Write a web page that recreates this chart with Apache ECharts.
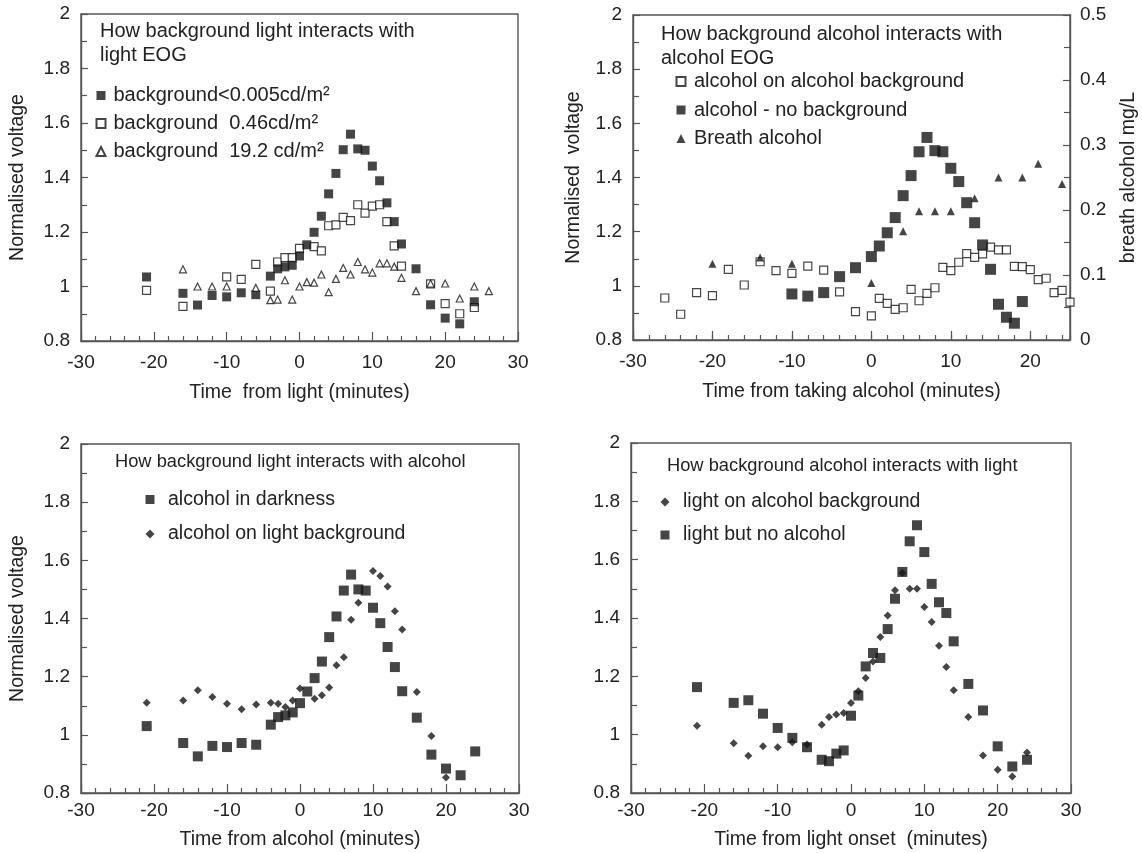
<!DOCTYPE html>
<html><head><meta charset="utf-8">
<script src="https://cdn.jsdelivr.net/npm/echarts@6/dist/echarts.min.js"></script>
<style>html,body{margin:0;padding:0;background:#fff}#c{width:1142px;height:853px}</style>
</head><body><div id="c"></div>
<script>
// ---------- Panel 1: How background light interacts with light EOG ----------
const p1DarkX = [-21,-16,-14,-12,-10,-8,-6,-4,-3,-2,-1,0,1,2,3,4,5,6,7,8,9,10,11,12,13,14,16,18,20,22,24];
const p1DarkY = [1.035,0.975,0.932,0.967,0.962,0.977,0.970,1.038,1.065,1.072,1.078,1.112,1.153,1.199,1.258,1.34,1.415,1.502,1.559,1.505,1.50,1.442,1.388,1.307,1.238,1.156,1.065,0.933,0.884,0.863,0.944];
const p1MidX = [-21,-16,-10,-8,-6,-4,-3,-2,-1,0,2,3,4,5,6,7,8,9,10,11,12,13,14,18,20,22,24];
const p1MidY = [0.986,0.927,1.035,1.026,1.081,0.983,1.09,1.106,1.106,1.14,1.146,1.131,1.223,1.226,1.254,1.242,1.30,1.269,1.295,1.30,1.238,1.149,1.075,1.01,0.937,0.90,0.923];
const p1BrightX = [-16,-14,-12,-10,-6,-4,-3,-2,-1,0,1,2,3,4,5,6,7,8,9,10,11,12,13,14,16,18,20,22,24,26];
const p1BrightY = [1.063,1.0,1.0,1.0,0.995,0.95,0.952,1.023,0.952,1.0,1.016,1.014,1.044,0.979,1.028,1.068,1.044,1.09,1.063,1.051,1.085,1.085,1.073,1.032,0.983,1.011,1.011,0.956,1.0,0.983];
const p1Names = ['background<0.005cd/m\u00B2','background  0.46cd/m\u00B2','background  19.2 cd/m\u00B2'];

// ---------- Panel 2: How background alcohol interacts with alcohol EOG ----------
const p2BgX = [-26,-24,-22,-20,-18,-16,-14,-12,-10,-8,-6,-4,-2,0,1,2,3,4,5,6,7,8,9,10,11,12,13,14,15,16,17,18,19,20,21,22,23,24,25];
const p2BgY = [0.955,0.895,0.975,0.964,1.061,1.003,1.089,1.056,1.046,1.073,1.058,0.978,0.905,0.889,0.954,0.935,0.913,0.919,0.987,0.945,0.972,0.993,1.068,1.056,1.087,1.119,1.105,1.118,1.143,1.133,1.133,1.072,1.071,1.06,1.023,1.028,0.975,0.983,0.94];
const p2NoBgX = [-10,-8,-6,-4,-2,0,1,2,3,4,5,6,7,8,9,10,11,12,13,14,15,16,17,18,19];
const p2NoBgY = [0.97,0.962,0.975,1.034,1.067,1.108,1.147,1.196,1.252,1.333,1.407,1.495,1.548,1.499,1.495,1.434,1.385,1.307,1.233,1.151,1.061,0.932,0.884,0.862,0.942];
const p2BreathX = [-20,-14,-10,0,4,6,8,10,13,16,19,21,24];
const p2BreathY = [0.1175,0.127,0.1175,0.0876,0.1675,0.198,0.198,0.198,0.218,0.25,0.25,0.271,0.24];
const p2Names = ['alcohol on alcohol background','alcohol - no background','Breath alcohol'];

// ---------- Panel 3: How background light interacts with alcohol ----------
const p3DarkX = [-21,-16,-14,-12,-10,-8,-6,-4,-3,-2,-1,0,1,2,3,4,5,6,7,8,9,10,11,12,13,14,16,18,20,22,24];
const p3DarkY = [1.03,0.972,0.926,0.962,0.958,0.972,0.966,1.035,1.061,1.067,1.077,1.109,1.149,1.195,1.252,1.336,1.407,1.496,1.551,1.50,1.496,1.437,1.384,1.302,1.233,1.15,1.059,0.932,0.884,0.861,0.943];
const p3LightX = [-21,-16,-14,-12,-10,-8,-6,-4,-3,-2,-1,0,2,3,4,5,6,7,8,10,11,12,13,14,16,18,20];
const p3LightY = [1.11,1.118,1.153,1.13,1.107,1.088,1.104,1.11,1.107,1.096,1.118,1.159,1.124,1.136,1.163,1.239,1.267,1.396,1.454,1.563,1.546,1.51,1.425,1.362,1.147,0.996,0.853];
const p3Names = ['alcohol in darkness','alcohol on light background'];

// ---------- Panel 4: How background alcohol interacts with light ----------
const p4AlcX = [-21,-16,-14,-12,-10,-8,-6,-4,-3,-2,-1,0,1,2,3,4,5,6,7,8,9,10,11,12,13,14,16,18,20,22,24];
const p4AlcY = [1.031,0.971,0.928,0.96,0.957,0.974,0.966,1.034,1.061,1.069,1.074,1.109,1.149,1.194,1.251,1.335,1.409,1.495,1.554,1.50,1.50,1.438,1.386,1.305,1.232,1.152,1.061,0.929,0.88,0.857,0.939];
const p4NoAlcX = [-21,-16,-14,-12,-10,-8,-6,-4,-3,-2,-1,0,1,2,3,4,5,6,7,8,9,10,11,12,13,14,16,18,20,22,24];
const p4NoAlcY = [1.163,1.109,1.118,1.072,1.023,0.989,0.957,0.914,0.909,0.935,0.946,1.065,1.134,1.234,1.28,1.263,1.362,1.466,1.558,1.663,1.718,1.626,1.517,1.454,1.417,1.32,1.174,1.083,0.96,0.891,0.914];
const p4Names = ['light on alcohol background','light but no alcohol'];

// ---------- Axis text ----------
const titles = ['How background light interacts with\nlight EOG','How background alcohol interacts with\nalcohol EOG','How background light interacts with alcohol','How background alcohol interacts with light'];
const xNames = ['Time  from light (minutes)','Time from taking alcohol (minutes)','Time from alcohol (minutes)','Time from light onset  (minutes)'];
const yName = 'Normalised voltage';
const yName2 = 'Normalised  voltage';
const rightName = 'breath alcohol mg/L';

const FONT = "'Liberation Sans', Arial, Helvetica, sans-serif";
const TXT = '#222';
const INK = '#161616';
const AX = '#555';
const FS = 19;

function pts(xs, ys){ return xs.map((x,i)=>[x, ys[i]]); }
function txt(extra){ return Object.assign({fontSize:FS,color:TXT,fontFamily:FONT}, extra||{}); }

function xAx(gridIndex, max, name, nameGap, labelMargin, extra){
  return Object.assign({
    type:'value', gridIndex, position:'bottom', min:-30, max, interval:10,
    name, nameLocation:'middle', nameGap, nameTextStyle:txt({fontSize:19.5}),
    axisLine:{show:true,onZero:false,lineStyle:{color:AX,width:1.4}},
    axisTick:{show:true,inside:true,length:9,lineStyle:{color:AX,width:1.2}},
    minorTick:{show:true,splitNumber:5,length:5,lineStyle:{color:AX,width:1.2}},
    splitLine:{show:false}, minorSplitLine:{show:false},
    axisLabel:txt({margin:labelMargin})
  }, extra||{});
}
function yAx(gridIndex, name, nameGap, extra){
  return Object.assign({
    type:'value', gridIndex, position:'left', min:0.8, max:2, interval:0.2,
    name, nameLocation:'middle', nameGap, nameTextStyle:txt({fontSize:19.5}),
    axisLine:{show:true,onZero:false,lineStyle:{color:AX,width:1.4}},
    axisTick:{show:true,inside:true,length:7,lineStyle:{color:AX,width:1.2}},
    minorTick:{show:true,splitNumber:2,length:6,lineStyle:{color:AX,width:1.2}},
    splitLine:{show:false}, minorSplitLine:{show:false},
    axisLabel:txt({margin:11})
  }, extra||{});
}
const filled = {color:INK};
const hollow = {color:'#fff',borderColor:INK,borderWidth:1.2};
function sc(name, xi, yi, data, symbol, size, style, z){
  return {type:'scatter', name, xAxisIndex:xi, yAxisIndex:yi, data, symbol, symbolSize:size,
    itemStyle:style, silent:true, z:z||2, emphasis:{disabled:true}};
}
function grid(left, top, width, height){
  return {left, top, width, height, show:true, borderColor:AX, borderWidth:1.4,
    backgroundColor:'transparent', containLabel:false, outerBoundsMode:'none'};
}
function legend(data, left, top, gap, textPad, fs){
  return {data, orient:'vertical', left, top, itemGap:gap, itemWidth:9, itemHeight:9,
    padding:0, selectedMode:false, textStyle:txt({fontSize:fs, padding:[0,0,0,textPad]})};
}
function title(text, left, top, fs){
  return {text, left, top, padding:0, textStyle:txt({fontSize:fs, fontWeight:'normal',lineHeight:23.5})};
}

const option = {
  animation:false,
  backgroundColor:'#fff',
  grid:[ grid(81,14,437,327), grid(633,15,437,325), grid(81,444,438,349), grid(631,443,440,350) ],
  title:[ title(titles[0],100,20,20), title(titles[1],661,23,20), title(titles[2],115,450,18.3), title(titles[3],667,454,18.3) ],
  legend:[
    legend(p1Names, 95.5, 85.5, 8, 3, 20),
    legend(p2Names, 675.5, 71.5, 8.5, 3.5, 20),
    legend(p3Names, 145.5, 489.5, 14.5, 8.5, 19.5),
    legend(p4Names, 660.5, 492, 13, 8.5, 19.5)
  ],
  xAxis:[
    xAx(0, 30, xNames[0], 41.5, 12),
    xAx(1, 25, xNames[1], 42, 12, {minorTick:{show:false}, axisLabel:txt({margin:12, showMaxLabel:false})}),
    xAx(1, 25, '', 0, 12, {interval:2, axisLine:{show:false,onZero:false}, minorTick:{show:false},
        axisTick:{show:true,inside:true,length:5,lineStyle:{color:AX,width:1.2}}, axisLabel:{show:false}}),
    xAx(2, 30, xNames[2], 36.5, 8),
    xAx(3, 30, xNames[3], 36.5, 8)
  ],
  yAxis:[
    yAx(0, yName, 53.5),
    yAx(1, yName2, 49.5),
    yAx(1, rightName, 48.5, {position:'right', min:0, max:0.5, interval:0.1, axisLabel:txt({margin:10})}),
    yAx(2, yName, 53.5),
    yAx(3, '', 20)
  ],
  series:[
    sc(p1Names[1], 0, 0, pts(p1MidX,p1MidY), 'rect', 8, hollow, 2),
    sc(p1Names[0], 0, 0, pts(p1DarkX,p1DarkY), 'rect', 9, filled, 3),
    sc(p1Names[2], 0, 0, pts(p1BrightX,p1BrightY), 'triangle', 7, hollow, 4),

    sc(p2Names[0], 1, 1, pts(p2BgX,p2BgY), 'rect', 8, hollow, 2),
    sc(p2Names[1], 1, 1, pts(p2NoBgX,p2NoBgY), 'rect', 11, filled, 3),
    sc(p2Names[2], 1, 2, pts(p2BreathX,p2BreathY), 'triangle', 8, filled, 4),

    sc(p3Names[0], 3, 3, pts(p3DarkX,p3DarkY), 'rect', 10, filled, 2),
    sc(p3Names[1], 3, 3, pts(p3LightX,p3LightY), 'diamond', 8, filled, 3),

    sc(p4Names[0], 4, 4, pts(p4AlcX,p4AlcY), 'diamond', 8, filled, 2),
    sc(p4Names[1], 4, 4, pts(p4NoAlcX,p4NoAlcY), 'rect', 10, filled, 3)
  ]
};
echarts.init(document.getElementById('c'), null, {renderer:'canvas'}).setOption(option);
</script>
</body></html>
